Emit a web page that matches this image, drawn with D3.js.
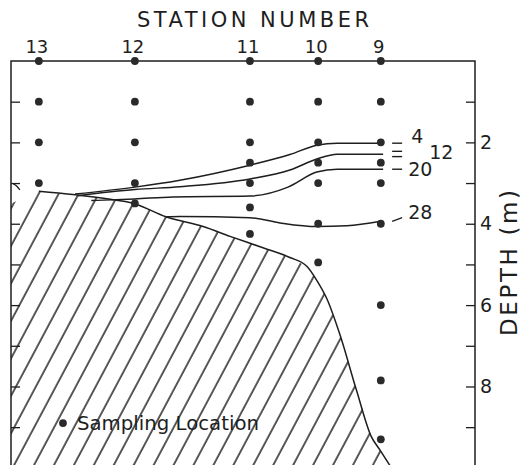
<!DOCTYPE html>
<html><head><meta charset="utf-8">
<script src="https://cdnjs.cloudflare.com/ajax/libs/d3/7.8.5/d3.min.js"></script>
<style>
html,body{margin:0;padding:0;background:#fff;}
svg{display:block;font-family:"DejaVu Sans","Liberation Sans",sans-serif;}
</style></head>
<body>
<svg id="chart" width="531" height="465"></svg>
<script>
// ---- data ----
const stations = ["13","12","11","10","9"];
const stationDist = [0.60, 2.67, 5.15, 6.62, 7.97];           // relative distance along section
const sampleDepths = [
  [0, 1, 2, 3],                         // station 13
  [0, 1, 2, 3, 3.5],                    // station 12
  [0, 1, 2, 2.5, 3, 3.6, 4.25],         // station 11
  [0, 1, 2, 2.5, 3, 4, 4.95],           // station 10
  [0, 1, 2, 2.5, 3, 4, 6, 7.85, 9.3]    // station 9
];
const depthTicks = [1,2,3,4,5,6,7,8,9];
const depthLabels = [2,4,6,8];
const contourLabels = ["4","12","20","28"];
const contourDist = [
  [1.38, 2.67, 3.64, 5.15, 6.01, 6.59, 7.03, 8.02],
  [1.44, 2.67, 3.64, 5.15, 6.01, 6.59, 7.03, 8.02],
  [1.73, 2.67, 3.49, 5.15, 5.97, 6.59, 7.03, 8.02],
  [3.34, 3.64, 5.15, 5.80, 6.59, 7.24, 7.97]
];
const contourDepth = [
  [3.27, 3.10, 2.93, 2.56, 2.30, 2.07, 2.02, 2.02],
  [3.31, 3.16, 3.09, 2.90, 2.68, 2.41, 2.29, 2.29],
  [3.43, 3.39, 3.34, 3.32, 3.10, 2.73, 2.66, 2.66],
  [3.83, 3.82, 3.85, 3.98, 4.07, 4.05, 3.94]
];
const bottomDist  = [0.60, 1.95, 2.69, 3.34, 4.14, 4.72, 5.43, 6.01, 6.38, 6.59, 6.81, 7.09, 7.44, 7.76, 7.95, 8.17];
const bottomDepth = [3.20, 3.37, 3.52, 3.83, 4.07, 4.31, 4.59, 4.83, 5.05, 5.39, 5.85, 6.73, 8.07, 9.22, 9.56, 9.95];
const stubDist = [0.05, 0.12, 0.19];
const stubDepth = [3.02, 3.06, 3.17];
const legendDist = 1.12, legendDepth = 8.9;

// ---- scales ----
const svg = d3.select("#chart");
const x = d3.scaleLinear().domain([0, 10]).range([11, 475]);
const y = d3.scaleLinear().domain([0, 9.93]).range([61, 465]);
const ink = "#1e1e1e";

// hatch pattern
const defs = svg.append("defs");
const pat = defs.append("pattern").attr("id","hatch").attr("patternUnits","userSpaceOnUse")
  .attr("width",17.6).attr("height",40).attr("patternTransform","rotate(28)");
pat.append("line").attr("x1",2).attr("x2",2).attr("y1",0).attr("y2",40)
  .attr("stroke","#000").attr("stroke-width",1.3);

// bottom region (hatched)
const bottomPts = bottomDist.map((d,i)=>[d,bottomDepth[i]]);
const areaPts = [[0,3.5]].concat(bottomPts).concat([[8.2,9.95],[0,9.95]]);
svg.append("path").attr("d", d3.line().x(d=>x(d[0])).y(d=>y(d[1]))(areaPts))
  .attr("fill","url(#hatch)").attr("stroke","none");
svg.append("path")
  .attr("d", d3.line().x(d=>x(d[0])).y(d=>y(d[1])).curve(d3.curveMonotoneX)(bottomPts))
  .attr("fill","none").attr("stroke",ink).attr("stroke-width",1.5);
svg.append("path")
  .attr("d", d3.line().x(d=>x(d[0])).y(d=>y(d[1])).curve(d3.curveBasis)(stubDist.map((d,i)=>[d,stubDepth[i]])))
  .attr("fill","none").attr("stroke",ink).attr("stroke-width",1.3);

// frame
svg.append("path")
  .attr("d", `M${x(0)},${y(9.93)}V${y(0)}H${x(10)}V${y(9.93)}`)
  .attr("fill","none").attr("stroke",ink).attr("stroke-width",1.5);

// right axis (ticks inward)
const rightAxis = d3.axisRight(y).tickValues(depthTicks).tickSize(-9)
  .tickFormat(d => depthLabels.includes(d) ? d : "");
const gr = svg.append("g").attr("transform",`translate(${x(10)},0)`).call(rightAxis);
gr.select(".domain").remove();
gr.selectAll(".tick line").attr("stroke",ink).attr("stroke-width",1.3);
gr.selectAll(".tick text").attr("fill",ink).attr("font-size",19).attr("x",5).attr("text-anchor","start")
  .attr("font-family","DejaVu Sans");

const leftAxis = d3.axisLeft(y).tickValues(depthTicks).tickSize(-9).tickFormat("");
const gl = svg.append("g").attr("transform",`translate(${x(0)},0)`).call(leftAxis);
gl.select(".domain").remove();
gl.selectAll(".tick line").attr("stroke",ink).attr("stroke-width",1.3);

// top station labels
svg.selectAll(".stlab").data(stations).join("text")
  .attr("x",(d,i)=>x(stationDist[i])-2).attr("y",y(0)-8)
  .attr("text-anchor","middle").attr("font-size",18).attr("fill",ink).text(d=>d);
svg.append("text").attr("x",253).attr("y",27).attr("text-anchor","middle")
  .attr("font-size",21).attr("fill",ink).attr("textLength",232).attr("lengthAdjust","spacing")
  .text("STATION NUMBER");

// depth label
svg.append("text").attr("transform",`translate(517,${263}) rotate(-90)`)
  .attr("text-anchor","middle").attr("font-size",23).attr("fill",ink)
  .attr("textLength",146).attr("lengthAdjust","spacing").text("DEPTH (m)");

// contours
const cline = d3.line().x(d=>x(d[0])).y(d=>y(d[1])).curve(d3.curveMonotoneX);
contourDist.forEach((ds,k)=>{
  svg.append("path").attr("d", cline(ds.map((d,i)=>[d,contourDepth[k][i]])))
    .attr("fill","none").attr("stroke",ink).attr("stroke-width",1.5);
});

// sample dots
stations.forEach((s,i)=>{
  svg.selectAll(".dot"+i).data(sampleDepths[i]).join("circle")
    .attr("cx",x(stationDist[i])).attr("cy",d=>y(d)).attr("r",3.9).attr("fill","#2a2a2a");
});

// contour labels with leader dashes
const endDist = 8.02;
const dashY1 = [2.02, 2.22, 2.66, 3.94];
const dashY2 = [2.02, 2.22, 2.66, 3.85];
contourLabels.forEach((t,k)=>{
  svg.append("line").attr("x1",x(endDist)+9).attr("x2",x(endDist)+19)
    .attr("y1",y(dashY1[k])).attr("y2",y(dashY2[k]))
    .attr("stroke",ink).attr("stroke-width",1.4);
});
// second dash of the "=" beside 12
svg.append("line").attr("x1",x(endDist)+9).attr("x2",x(endDist)+19)
  .attr("y1",y(2.35)).attr("y2",y(2.35)).attr("stroke",ink).attr("stroke-width",1.4);
const labelDepth = [1.85, 2.25, 2.66, 3.72];
const labOff = [28, 46, 25, 25];
contourLabels.forEach((t,k)=>{
  svg.append("text").attr("x",x(endDist)+labOff[k]).attr("y",y(labelDepth[k])).attr("dy","0.36em")
    .attr("font-size",19).attr("fill",ink).text(t);
});

// legend
svg.append("circle").attr("cx",x(legendDist)).attr("cy",y(legendDepth)).attr("r",3.9).attr("fill","#2a2a2a");
svg.append("text").attr("x",x(legendDist)+14).attr("y",y(legendDepth)).attr("dy","0.38em")
  .attr("font-size",19).attr("fill",ink).attr("textLength",182).attr("lengthAdjust","spacingAndGlyphs")
  .text("Sampling Location");
</script>
</body></html>
